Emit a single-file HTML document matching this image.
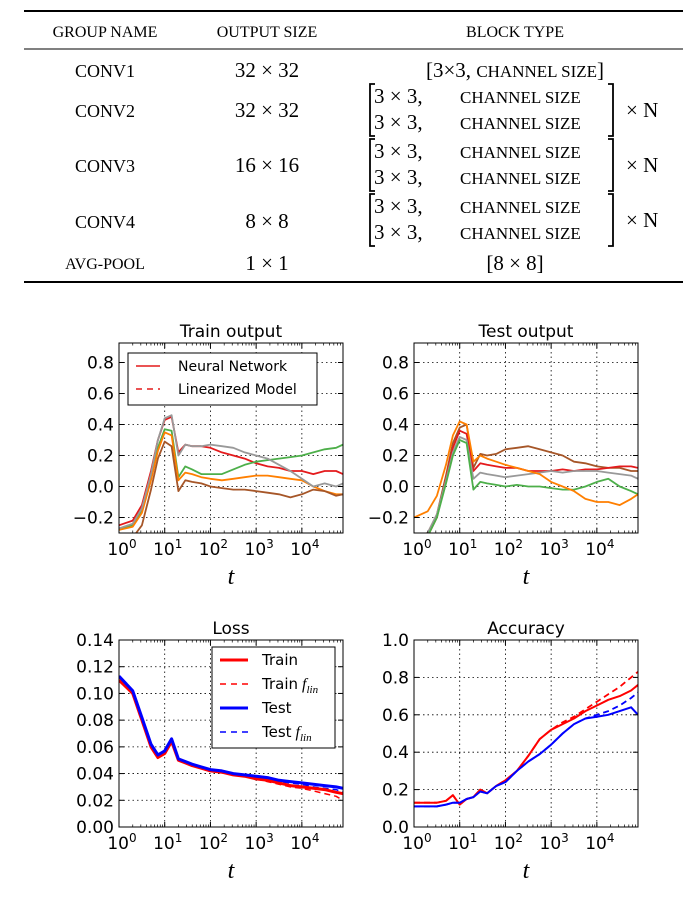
<!DOCTYPE html>
<html><head><meta charset="utf-8"><style>
body{margin:0;background:#fff;width:696px;height:899px;overflow:hidden}
svg text{font-family:"DejaVu Sans","Liberation Sans",sans-serif}
svg text.serif,.serif{font-family:"Liberation Serif",serif}
</style></head><body>
<svg id="s" width="696" height="899" xmlns="http://www.w3.org/2000/svg">
<g>
<line x1="24" y1="11" x2="683" y2="11" stroke="#000" stroke-width="2"/>
<line x1="24" y1="49" x2="683" y2="49" stroke="#000" stroke-width="1"/>
<line x1="24" y1="282" x2="683" y2="282" stroke="#000" stroke-width="2"/>
<g font-size="16" text-anchor="middle">
<text x="105" y="37" class="serif">GROUP NAME</text><text x="267" y="37" class="serif">OUTPUT SIZE</text><text x="515" y="37" class="serif">BLOCK TYPE</text></g>
<g font-size="18" text-anchor="middle">
<text x="105" y="77" class="serif">CONV1</text><text x="105" y="117" class="serif">CONV2</text><text x="105" y="172" class="serif">CONV3</text><text x="105" y="228" class="serif">CONV4</text><text x="105" y="269" class="serif" font-size="16">AVG-POOL</text></g>
<g font-size="21" text-anchor="middle">
<text x="267" y="77" class="serif">32 × 32</text><text x="267" y="117" class="serif">32 × 32</text><text x="267" y="172" class="serif">16 × 16</text><text x="267" y="228" class="serif">8 × 8</text><text x="267" y="270" class="serif">1 × 1</text></g>
<g>
<text x="515" y="77" class="serif" font-size="21" text-anchor="middle">[3×3, <tspan font-size="17">CHANNEL SIZE</tspan>]</text>
<text x="515" y="270" class="serif" font-size="21" text-anchor="middle">[8 × 8]</text>
<g id="mats"></g></g>
</g>
<g id="charts"></g>
</svg>
<script>
const NS='http://www.w3.org/2000/svg';
function mk(p,tag,at,txt){const e=document.createElementNS(NS,tag);for(const k in at)e.setAttribute(k,at[k]);if(txt!==undefined)e.textContent=txt;p.appendChild(e);return e;}
const mats=document.getElementById('mats');
[[84,136],[139,191],[194,246]].forEach(([a,b],i)=>{
 const g=mk(mats,'g',{});
 
 
 mk(g,'path',{d:`M375 ${a}H370V${b}H375`,fill:'none',stroke:'#000','stroke-width':1.8});
 mk(g,'path',{d:`M608 ${a}H613V${b}H608`,fill:'none',stroke:'#000','stroke-width':1.8});
 [a+19,a+45].forEach(y=>{mk(g,'text',{x:374,y:y,'font-size':21,class:'serif'},'3 × 3,');
  mk(g,'text',{x:460,y:y,'font-size':17,class:'serif'},'CHANNEL SIZE');});
 mk(g,'text',{x:626,y:a+33,'font-size':21,class:'serif'},'× N');
});

const logT=[0,0.3,0.5,0.7,0.85,1,1.15,1.3,1.45,1.6,1.8,2,2.25,2.5,2.75,3,3.25,3.5,3.75,4,4.25,4.5,4.75,4.9];
const trRed=[-0.25,-0.22,-0.12,0.1,0.3,0.43,0.45,0.22,0.27,0.26,0.26,0.25,0.22,0.2,0.18,0.15,0.13,0.12,0.1,0.1,0.08,0.1,0.1,0.08];
const trGray=[-0.27,-0.24,-0.14,0.08,0.3,0.44,0.46,0.2,0.27,0.26,0.26,0.27,0.26,0.25,0.22,0.2,0.18,0.14,0.1,0.05,0.0,0.02,0.0,0.02];
const trGreen=[-0.28,-0.25,-0.16,0.05,0.25,0.37,0.36,0.06,0.13,0.11,0.08,0.08,0.08,0.11,0.14,0.16,0.17,0.18,0.19,0.2,0.22,0.24,0.25,0.27];
const trOrange=[-0.28,-0.26,-0.17,0.04,0.23,0.35,0.33,0.04,0.09,0.08,0.06,0.05,0.04,0.05,0.06,0.07,0.07,0.06,0.05,0.04,0.0,-0.03,-0.05,-0.05];
const trBrown=[-0.35,-0.33,-0.25,-0.02,0.18,0.29,0.26,-0.03,0.04,0.03,0.02,0.0,-0.01,-0.02,-0.02,-0.03,-0.04,-0.05,-0.07,-0.05,-0.02,-0.03,-0.06,-0.05];
const teOrange=[-0.2,-0.16,-0.06,0.14,0.33,0.42,0.4,0.16,0.2,0.18,0.16,0.14,0.12,0.1,0.08,0.03,0.0,-0.03,-0.08,-0.1,-0.1,-0.12,-0.08,-0.05];
const teRed=[-0.35,-0.32,-0.2,0.05,0.25,0.36,0.34,0.1,0.15,0.14,0.13,0.12,0.12,0.1,0.1,0.1,0.11,0.1,0.11,0.11,0.12,0.13,0.13,0.12];
const teBrown=[-0.32,-0.3,-0.18,0.07,0.28,0.38,0.4,0.12,0.21,0.2,0.21,0.24,0.25,0.26,0.24,0.22,0.2,0.16,0.15,0.13,0.12,0.12,0.1,0.1];
const teGray=[-0.33,-0.3,-0.18,0.04,0.22,0.32,0.3,0.05,0.09,0.08,0.07,0.06,0.07,0.08,0.09,0.1,0.09,0.1,0.1,0.1,0.09,0.08,0.07,0.05];
const teGreen=[-0.35,-0.32,-0.2,0.02,0.2,0.3,0.28,-0.02,0.03,0.02,0.01,0.0,0.01,0.0,0.0,-0.01,-0.02,-0.02,0.0,0.03,0.05,0.0,-0.03,-0.05];
const lossTrain=[0.11,0.10,0.08,0.06,0.052,0.055,0.064,0.05,0.048,0.046,0.044,0.042,0.041,0.039,0.038,0.036,0.035,0.033,0.031,0.03,0.029,0.028,0.026,0.025];
const lossTrainLin=[0.11,0.10,0.08,0.06,0.052,0.055,0.064,0.05,0.048,0.046,0.044,0.042,0.041,0.039,0.038,0.036,0.034,0.032,0.03,0.029,0.027,0.025,0.023,0.02];
const lossTest=[0.113,0.102,0.082,0.062,0.054,0.057,0.066,0.051,0.049,0.047,0.045,0.043,0.042,0.04,0.039,0.038,0.037,0.035,0.034,0.033,0.032,0.031,0.03,0.029];
const lossTestLin=[0.113,0.102,0.082,0.062,0.054,0.057,0.066,0.051,0.049,0.047,0.045,0.043,0.042,0.04,0.039,0.038,0.036,0.034,0.033,0.032,0.03,0.029,0.028,0.026];
const accTrain=[0.13,0.13,0.13,0.14,0.17,0.12,0.15,0.16,0.2,0.18,0.22,0.25,0.3,0.38,0.47,0.52,0.55,0.58,0.62,0.65,0.68,0.7,0.73,0.76];
const accTrainLin=[0.13,0.13,0.13,0.14,0.17,0.12,0.15,0.16,0.2,0.18,0.22,0.25,0.3,0.38,0.47,0.52,0.56,0.59,0.63,0.67,0.71,0.75,0.8,0.83];
const accTest=[0.11,0.11,0.11,0.12,0.13,0.13,0.15,0.16,0.19,0.18,0.22,0.24,0.3,0.35,0.39,0.44,0.5,0.55,0.58,0.59,0.6,0.62,0.64,0.6];
const accTestLin=[0.11,0.11,0.11,0.12,0.13,0.13,0.15,0.16,0.19,0.18,0.22,0.24,0.3,0.35,0.39,0.44,0.5,0.55,0.58,0.6,0.62,0.65,0.69,0.72];
const outTicks=['−0.2','0.0','0.2','0.4','0.6','0.8'];
const outTickVals=[-0.2,0,0.2,0.4,0.6,0.8];
const lossTicks=['0.00','0.02','0.04','0.06','0.08','0.10','0.12','0.14'];
const lossTickVals=[0,0.02,0.04,0.06,0.08,0.10,0.12,0.14];
const accTicks=['0.0','0.2','0.4','0.6','0.8','1.0'];
const accTickVals=[0,0.2,0.4,0.6,0.8,1.0];
const xDecades=[0,1,2,3,4];

const C={red:'#e41a1c',gray:'#999999',green:'#4daf4a',orange:'#ff7f00',brown:'#a65628'};
const root=document.getElementById('charts');
function chart(name,x0,y0,w,h,ymin,ymax,title,tv,tl,series){
 const g=mk(root,'g',{});
 
 
 const xmax=4.9;
 const sx=v=>x0+v/xmax*w, sy=v=>y0+h-(v-ymin)/(ymax-ymin)*h;
 const clip='c'+name;
 const cp=mk(g,'clipPath',{id:clip});mk(cp,'rect',{x:x0,y:y0,width:w,height:h});
 xDecades.forEach(d=>{if(d>0)mk(g,'line',{x1:sx(d),x2:sx(d),y1:y0,y2:y0+h,stroke:'#000','stroke-dasharray':'1.5,3','stroke-width':0.8});});
 tv.forEach(v=>{mk(g,'line',{x1:x0,x2:x0+w,y1:sy(v),y2:sy(v),stroke:'#000','stroke-dasharray':'1.5,3','stroke-width':0.8});});
 const sg=mk(g,'g',{'clip-path':`url(#${clip})`});
 series.forEach(s=>{
  const d=logT.map((t,i)=>(i?'L':'M')+sx(t).toFixed(1)+' '+sy(s.v[i]).toFixed(1)).join('');
  const p=mk(sg,'path',{d:d,fill:'none',stroke:s.c,'stroke-width':s.w||1.8,'stroke-linejoin':'round','stroke-dasharray':s.dash||'none'});
  
  
 });
 mk(g,'rect',{x:x0,y:y0,width:w,height:h,fill:'none',stroke:'#000','stroke-width':1});
 xDecades.forEach(d=>{
  [y0,y0+h].forEach((yy,k)=>mk(g,'line',{x1:sx(d),x2:sx(d),y1:yy,y2:yy+(k?-5:5),stroke:'#000'}));
  for(let m=2;m<10;m++){const v=d+Math.log10(m);if(v<xmax)[y0,y0+h].forEach((yy,k)=>mk(g,'line',{x1:sx(v),x2:sx(v),y1:yy,y2:yy+(k?-2.5:2.5),stroke:'#000','stroke-width':0.7}));}
  const t=mk(g,'text',{x:sx(d)+3,y:y0+h+22,'font-size':17,'text-anchor':'middle'});
  
  
  mk(t,'tspan',{},'10');mk(t,'tspan',{'font-size':12,dy:-7},String(d));
 });
 tv.forEach((v,i)=>{
  mk(g,'line',{x1:x0,x2:x0+5,y1:sy(v),y2:sy(v),stroke:'#000'});
  mk(g,'line',{x1:x0+w,x2:x0+w-5,y1:sy(v),y2:sy(v),stroke:'#000'});
  const t=mk(g,'text',{x:x0-5,y:sy(v)+6,'font-size':17,'text-anchor':'end'},tl[i]);
  
  
 });
 const tt=mk(g,'text',{x:x0+w/2,y:y0-6,'font-size':17,'text-anchor':'middle'},title);
 
 
 const xl=mk(g,'text',{x:x0+w/2,y:y0+h+51,'font-size':24,'font-style':'italic','text-anchor':'middle',class:'serif'},'t');
 
 
 return g;
}
chart('train-output-chart',119,343,224,190,-0.3,-0.3+190/155,'Train output',outTickVals,outTicks,[
 {v:trRed,c:C.red,n:'train-red'},{v:trGreen,c:C.green,n:'train-green'},{v:trOrange,c:C.orange,n:'train-orange'},{v:trBrown,c:C.brown,n:'train-brown'},{v:trGray,c:C.gray,n:'train-gray'}]);
chart('test-output-chart',414,343,224,190,-0.3,-0.3+190/155,'Test output',outTickVals,outTicks,[
 {v:teBrown,c:C.brown,n:'test-brown'},{v:teRed,c:C.red,n:'test-red'},{v:teGray,c:C.gray,n:'test-gray'},{v:teGreen,c:C.green,n:'test-green'},{v:teOrange,c:C.orange,n:'test-orange'}]);
chart('loss-chart',119,640,224,187,0,0.14,'Loss',lossTickVals,lossTicks,[
 {v:lossTrainLin,c:'#f00',n:'loss-train-lin',dash:'6,4',w:1.5},{v:lossTestLin,c:'#00f',n:'loss-test-lin',dash:'6,4',w:1.5},
 {v:lossTrain,c:'#f00',n:'loss-train',w:3},{v:lossTest,c:'#00f',n:'loss-test',w:3}]);
chart('accuracy-chart',414,640,224,187,0,1,'Accuracy',accTickVals,accTicks,[
 {v:accTrainLin,c:'#f00',n:'acc-train-lin',dash:'6,4'},{v:accTestLin,c:'#00f',n:'acc-test-lin',dash:'6,4'},
 {v:accTrain,c:'#f00',n:'acc-train',w:2},{v:accTest,c:'#00f',n:'acc-test',w:2}]);

function legend(name,x,y,w,h,items){
 const g=mk(root,'g',{});
 
 
 mk(g,'rect',{x:x,y:y,width:w,height:h,fill:'#fff',stroke:'#000'});
 items.forEach((it,i)=>{
  const yy=y+it.y;
  const e=mk(g,'g',{});
  
  
  mk(e,'line',{x1:x+8,x2:x+it.lw,y1:yy,y2:yy,stroke:it.c,'stroke-width':it.w,'stroke-dasharray':it.dash||'none'});
  const t=mk(e,'text',{x:x+it.tx,y:yy+5,'font-size':it.fs},it.t);
  if(it.sub){mk(t,'tspan',{class:'serif','font-style':'italic','font-size':16,dx:4},'f');mk(t,'tspan',{class:'serif','font-style':'italic','font-size':11,dy:4},'lin');}
 });
}
legend('train-output-legend',128,353,189,52,[
 {y:13,c:C.red,w:1.5,lw:32,tx:50,fs:14,t:'Neural Network'},
 {y:36,c:C.red,w:1.5,dash:'6,5',lw:32,tx:50,fs:14,t:'Linearized Model'}]);
legend('loss-legend',212,647,123,101,[
 {y:13,c:'#f00',w:3,lw:36,tx:50,fs:15,t:'Train'},
 {y:37,c:'#f00',w:1.5,dash:'6,5',lw:36,tx:50,fs:15,t:'Train',sub:1},
 {y:61,c:'#00f',w:3,lw:36,tx:50,fs:15,t:'Test'},
 {y:85,c:'#00f',w:1.5,dash:'6,5',lw:36,tx:50,fs:15,t:'Test',sub:1}]);
</script>
</body></html>
